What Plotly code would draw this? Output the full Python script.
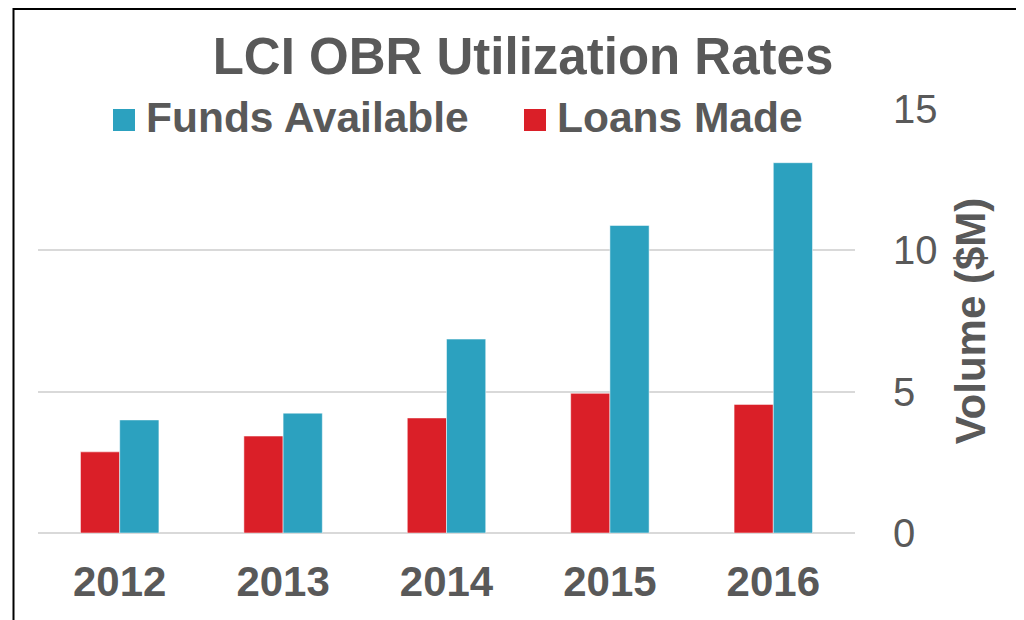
import plotly.graph_objects as go

years = ["2012", "2013", "2014", "2015", "2016"]
loans_made = [2.87, 3.43, 4.07, 4.94, 4.55]
funds_available = [4.0, 4.24, 6.86, 10.88, 13.1]
y_ticks = [0, 5, 10, 15]

RED = "#DA1F28"
BLUE = "#2CA1BF"
GREY = "#595959"
FONT = "Liberation Sans, Arial, sans-serif"

# the page body adds an 8px offset; compensate so the figure fills the window
OFF = 8
W, H = 1024 - OFF, 620 - OFF
# plot area in window pixels
L, R, T, B = 38, 855, 109, 533


def px(x):
    return (x - L) / (R - L)


def py(y):
    return (B - y) / (B - T)


fig = go.Figure()
fig.add_trace(go.Bar(x=years, y=loans_made, name="Loans Made",
                     marker=dict(color=RED, line=dict(color="rgba(255,255,255,0.5)", width=1)), showlegend=False))
fig.add_trace(go.Bar(x=years, y=funds_available, name="Funds Available",
                     marker=dict(color=BLUE, line=dict(color="rgba(255,255,255,0.5)", width=1)), showlegend=False))

shapes = [
    dict(type="rect", xref="paper", yref="paper", x0=px(13.5), x1=px(1040), y0=py(640), y1=py(9),
         line=dict(color="black", width=2), fillcolor="rgba(0,0,0,0)", layer="above"),
    dict(type="rect", xref="paper", yref="paper", x0=px(113), x1=px(135), y0=py(131), y1=py(109),
         line=dict(width=0), fillcolor=BLUE, layer="above"),
    dict(type="rect", xref="paper", yref="paper", x0=px(524), x1=px(546), y0=py(131), y1=py(109),
         line=dict(width=0), fillcolor=RED, layer="above"),
]

annotations = [
    dict(text="<b>Funds Available</b>", xref="paper", yref="paper", x=px(144), y=py(117), xanchor="left", yanchor="middle",
         showarrow=False, font=dict(size=42.5, color=GREY, family=FONT)),
    dict(text="<b>Loans Made</b>", xref="paper", yref="paper", x=px(555), y=py(117), xanchor="left", yanchor="middle",
         showarrow=False, font=dict(size=42.5, color=GREY, family=FONT)),
]

fig.update_layout(
    width=W, height=H,
    margin=dict(l=L - OFF, r=1024 - R, t=T - OFF, b=620 - B),
    paper_bgcolor="white", plot_bgcolor="white",
    font=dict(family=FONT, color=GREY),
    title=dict(text="<b>LCI OBR Utilization Rates</b>", x=(523 - OFF) / W, xanchor="center",
               y=1 - (56 - OFF) / H, yanchor="middle",
               font=dict(size=51, color=GREY, family=FONT)),
    barmode="group", bargap=0.52, bargroupgap=0,
    showlegend=False,
    shapes=shapes,
    annotations=annotations,
    xaxis=dict(showgrid=False, showline=False, zeroline=False, ticks="", ticklabelstandoff=20,
               tickfont=dict(size=42, color=GREY, family=FONT), tickprefix="<b>", ticksuffix="</b>"),
    yaxis=dict(side="right", range=[0, 15], tickvals=y_ticks, showgrid=True, gridcolor="#D9D9D9", gridwidth=1.5,
               zeroline=True, zerolinecolor="#D9D9D9", zerolinewidth=1.5, showline=False, ticks="",
               ticklabelstandoff=37, tickfont=dict(size=40, color=GREY, family=FONT),
               title=dict(text="<b>Volume ($M)</b>", font=dict(size=42, color=GREY, family=FONT), standoff=19)),
)

fig.write_html("out.html")
